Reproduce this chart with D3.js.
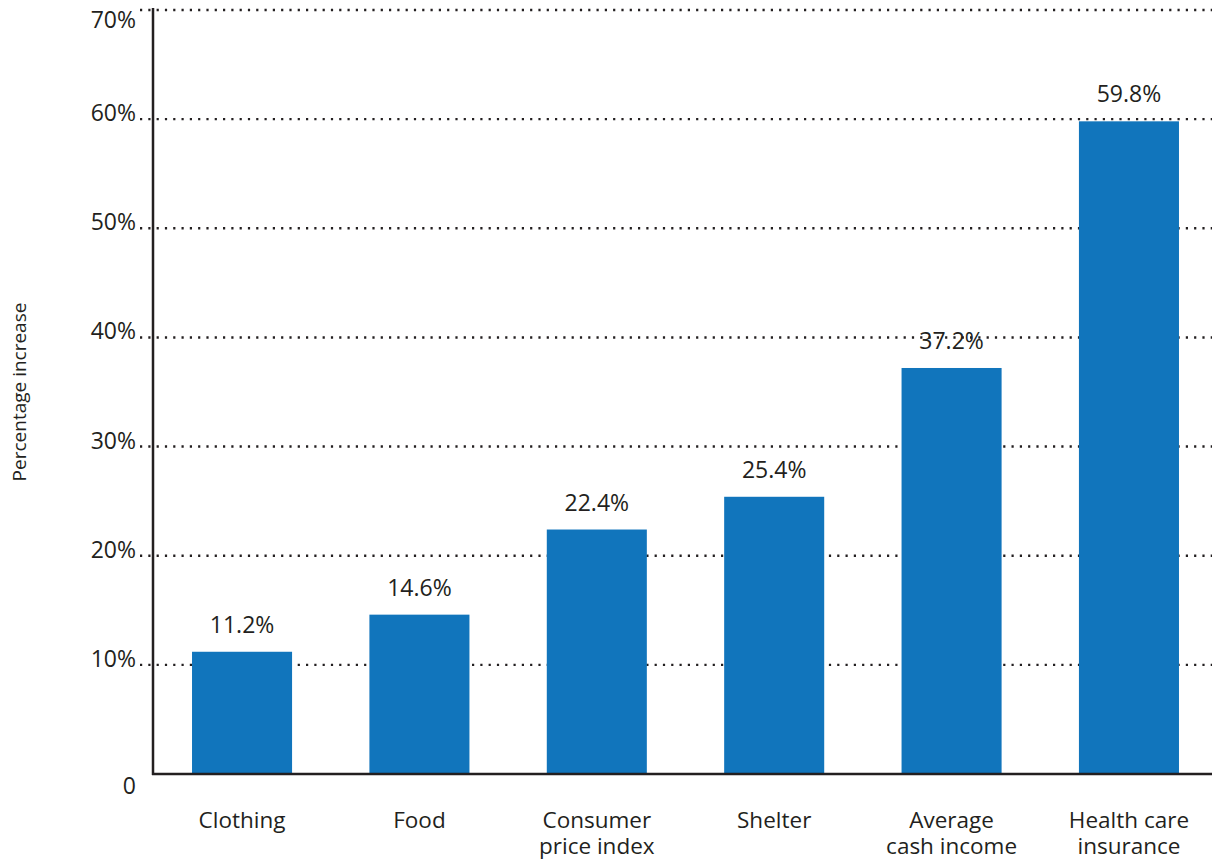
<!DOCTYPE html>
<html>
<head>
<meta charset="utf-8">
<script src="https://cdn.jsdelivr.net/npm/d3@7"></script>
<style>
  body { margin: 0; background: #fff; }
  text { font-family: "Open Sans", "Noto Sans", sans-serif; fill: #231f20; }
</style>
</head>
<body>
<div id="chart"></div>
<script>
// Data
const categories = ["Clothing", "Food", "Consumer\nprice index", "Shelter", "Average\ncash income", "Health care\ninsurance"];
const values = [11.2, 14.6, 22.4, 25.4, 37.2, 59.8];
const yTicks = [0, 10, 20, 30, 40, 50, 60, 70];

const W = 1212, H = 860;

const svg = d3.select("#chart")
    .append("svg")
    .attr("width", W)
    .attr("height", H);

const x = d3.scaleBand()
    .domain(categories)
    .range([153, 1218])
    .paddingInner(0.436)
    .paddingOuter(0.22);

const y = d3.scaleLinear()
    .domain([0, 70])
    .range([774, 10]);

// dotted gridlines
svg.append("g")
    .selectAll("line")
    .data(yTicks.filter(d => d > 0))
    .enter().append("line")
    .attr("x1", 140)
    .attr("x2", W)
    .attr("y1", d => y(d))
    .attr("y2", d => y(d))
    .attr("stroke", "#231f20")
    .attr("stroke-width", 2.4)
    .attr("stroke-dasharray", "2.2 6.1");

// tick labels
svg.append("g")
    .selectAll("text")
    .data(yTicks)
    .enter().append("text")
    .attr("x", 136)
    .attr("y", d => d === 0 ? 794 : Math.max(y(d) + 2, 28))
    .attr("text-anchor", "end")
    .style("font-size", "23px")
    .text(d => d === 0 ? "0" : d + "%");

// bars
svg.append("g")
    .selectAll("rect")
    .data(values)
    .enter().append("rect")
    .attr("x", (d, i) => x(categories[i]))
    .attr("y", d => y(d))
    .attr("width", x.bandwidth())
    .attr("height", d => y(0) - y(d))
    .attr("fill", "#1175bc");

// value labels
svg.append("g")
    .selectAll("text")
    .data(values)
    .enter().append("text")
    .attr("x", (d, i) => x(categories[i]) + x.bandwidth() / 2)
    .attr("y", d => y(d) - 19)
    .attr("text-anchor", "middle")
    .style("font-size", "23px")
    .text(d => d.toFixed(1) + "%");

// axes lines
svg.append("line")
    .attr("x1", 153).attr("x2", 153)
    .attr("y1", 8).attr("y2", 775)
    .attr("stroke", "#231f20")
    .attr("stroke-width", 2.5);

svg.append("line")
    .attr("x1", 152).attr("x2", W)
    .attr("y1", y(0)).attr("y2", y(0))
    .attr("stroke", "#231f20")
    .attr("stroke-width", 2.5);

// category labels (may be two lines)
const catLabels = svg.append("g")
    .selectAll("text")
    .data(categories)
    .enter().append("text")
    .attr("text-anchor", "middle")
    .attr("transform", d => `translate(${x(d) + x.bandwidth() / 2}, 828)`)
    .style("font-size", "22.5px");

catLabels.selectAll("tspan")
    .data(d => d.split("\n"))
    .enter().append("tspan")
    .attr("x", 0)
    .attr("dy", (d, i) => i === 0 ? 0 : 26)
    .text(d => d);

// y title
svg.append("text")
    .attr("transform", "translate(26, 392) rotate(-90)")
    .attr("text-anchor", "middle")
    .style("font-size", "19px")
    .text("Percentage increase");
</script>
</body>
</html>
